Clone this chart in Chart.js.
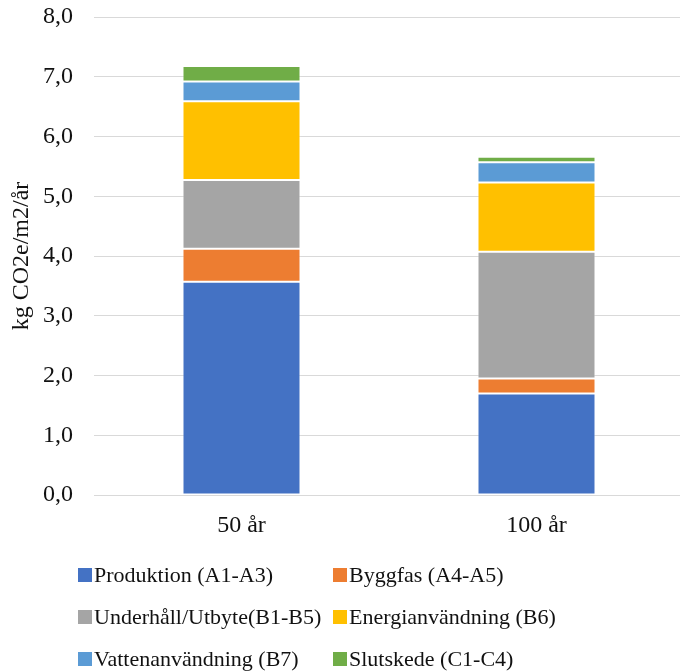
<!DOCTYPE html>
<html lang="sv">
<head>
<meta charset="utf-8">
<script src="https://cdn.jsdelivr.net/npm/chart.js@4/dist/chart.umd.min.js"></script>
<style>
  html, body { margin: 0; padding: 0; background: #fff; overflow: hidden; }
  #wrap { position: relative; width: 680px; height: 671px; overflow: hidden; }
  #box { position: absolute; left: 0; top: 0; width: 684px; height: 548px; }
  #legend { position: absolute; left: 0; top: 0; width: 680px; height: 671px; pointer-events: none;
            font-family: "Liberation Serif", "Times New Roman", serif; font-size: 22px; color: #111; }
  .item { position: absolute; display: flex; align-items: center; height: 30px; white-space: nowrap; }
  .sw { width: 14px; height: 14px; margin-right: 2px; flex: none; }
</style>
</head>
<body>
<div id="wrap">
  <div id="box"><canvas id="c"></canvas></div>
  <div id="legend"></div>
</div>
<script>
// Categories (analysis period)
const categories = ['50 år', '100 år'];

// Climate impact per life-cycle stage, kg CO2e/m2/år
const produktion = [3.57, 1.70];
const byggfas    = [0.55, 0.25];
const underhall  = [1.15, 2.12];
const energi     = [1.32, 1.16];
const vatten     = [0.33, 0.34];
const slutskede  = [0.26, 0.09];

const seriesNames = [
  'Produktion (A1-A3)',
  'Byggfas (A4-A5)',
  'Underhåll/Utbyte(B1-B5)',
  'Energianvändning (B6)',
  'Vattenanvändning (B7)',
  'Slutskede (C1-C4)'
];
const seriesData = [produktion, byggfas, underhall, energi, vatten, slutskede];
const seriesColors = ['#4472C4', '#ED7D31', '#A5A5A5', '#FFC000', '#5B9BD5', '#70AD47'];

// Y axis range and step
const yMin = 0, yMax = 8, yStep = 1;

const axisFont = { family: '"Liberation Serif", "Times New Roman", serif', size: 24 };
const textColor = '#111';

const datasets = seriesNames.map((name, i) => ({
  label: name,
  data: seriesData[i],
  backgroundColor: seriesColors[i],
  borderColor: 'rgba(255,255,255,0.4)',
  borderWidth: 1,
  borderSkipped: false,
  barPercentage: 0.4,
  categoryPercentage: 1.0
}));

const chart = new Chart(document.getElementById('c'), {
  type: 'bar',
  data: { labels: categories, datasets },
  options: {
    responsive: true,
    maintainAspectRatio: false,
    animation: false,
    layout: { padding: 0 },
    plugins: {
      legend: { display: false },
      tooltip: { enabled: false }
    },
    scales: {
      x: {
        stacked: true,
        grid: { display: false, drawTicks: false },
        border: { display: false },
        ticks: { font: axisFont, color: textColor, padding: 16 },
        afterFit: s => { s.height = 53; }
      },
      y: {
        stacked: true,
        min: yMin,
        max: yMax,
        grid: { color: '#d9d9d9', lineWidth: 1, drawTicks: false },
        border: { display: false },
        ticks: {
          stepSize: yStep,
          font: axisFont, color: textColor, padding: 21,
          callback: v => v.toFixed(1).replace('.', ',')
        },
        title: {
          display: true,
          text: 'kg CO2e/m2/år',
          font: axisFont, color: textColor,
          padding: { top: 7, bottom: 0 }
        },
        afterFit: s => {
          s.width = 94;
          s.paddingTop = 17;
          s.paddingBottom = 0;
        }
      }
    }
  }
});

// Two-column legend built from the chart's own legend items
const legendEl = document.getElementById('legend');
const items = chart.options.plugins.legend.labels.generateLabels(chart);
const colX = [78, 333];
const rowY = [575, 617, 659];
items.forEach((it, i) => {
  const d = document.createElement('div');
  d.className = 'item';
  d.style.left = colX[i % 2] + 'px';
  d.style.top = (rowY[Math.floor(i / 2)] - 15) + 'px';
  const sw = document.createElement('span');
  sw.className = 'sw';
  sw.style.background = it.fillStyle;
  const t = document.createElement('span');
  t.textContent = it.text;
  d.appendChild(sw);
  d.appendChild(t);
  legendEl.appendChild(d);
});
</script>
</body>
</html>
